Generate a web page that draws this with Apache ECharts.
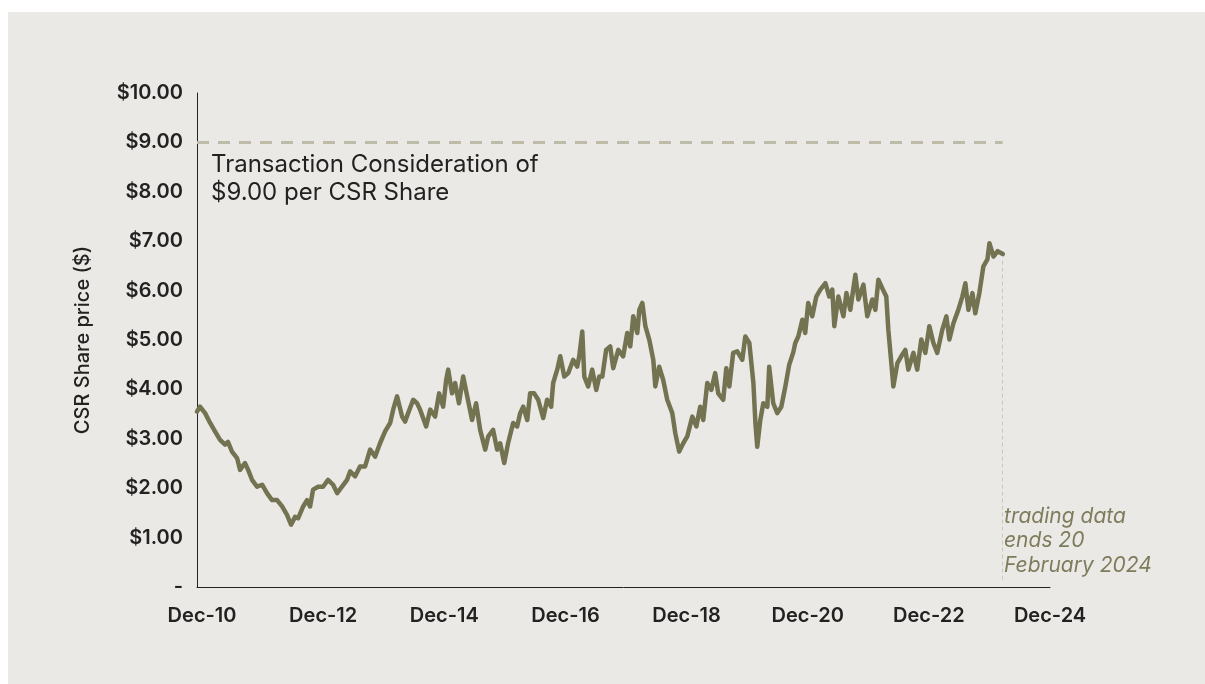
<!DOCTYPE html>
<html>
<head>
<meta charset="utf-8">
<script src="https://cdn.jsdelivr.net/npm/echarts@6/dist/echarts.min.js"></script>
<style>
  html, body { margin: 0; padding: 0; background: #ffffff; overflow: hidden; }
  .panel { position: absolute; left: 8px; top: 12px; width: 1197px; height: 672px; background: #ebe9e5; }
  #chart { position: absolute; left: 0; top: 0; width: 1205px; height: 684px; }
</style>
</head>
<body>
<div class="panel"></div>
<div id="chart"></div>
<script>
// share price, one point per date
const dates = [
  '2010-11-01', '2010-11-19', '2010-12-19', '2011-01-19', '2011-02-18', '2011-03-18', '2011-04-18', '2011-05-05',
  '2011-05-29', '2011-06-29', '2011-07-17', '2011-08-16', '2011-09-05', '2011-09-28', '2011-10-28', '2011-11-28',
  '2011-12-27', '2012-01-27', '2012-02-27', '2012-03-27', '2012-04-26', '2012-05-20', '2012-06-14', '2012-07-02',
  '2012-08-02', '2012-08-25', '2012-09-13', '2012-10-01', '2012-10-31', '2012-11-30', '2012-12-30', '2013-01-30',
  '2013-02-24', '2013-03-23', '2013-04-23', '2013-05-11', '2013-06-11', '2013-07-10', '2013-08-10', '2013-09-10',
  '2013-10-10', '2013-11-09', '2013-12-09', '2014-01-09', '2014-01-27', '2014-02-20', '2014-03-20', '2014-04-08',
  '2014-04-26', '2014-05-26', '2014-06-19', '2014-07-07', '2014-07-25', '2014-08-13', '2014-09-07', '2014-10-06',
  '2014-10-30', '2014-11-24', '2014-12-12', '2014-12-24', '2015-01-17', '2015-02-05', '2015-02-28', '2015-03-23',
  '2015-04-17', '2015-05-16', '2015-06-10', '2015-07-04', '2015-08-04', '2015-08-22', '2015-09-21', '2015-10-15',
  '2015-11-03', '2015-11-27', '2015-12-20', '2016-01-20', '2016-02-14', '2016-03-02', '2016-03-20', '2016-04-14',
  '2016-05-01', '2016-05-25', '2016-06-19', '2016-07-19', '2016-08-12', '2016-09-06', '2016-09-18', '2016-10-12',
  '2016-10-30', '2016-11-24', '2016-12-18', '2017-01-17', '2017-02-11', '2017-02-23', '2017-03-11', '2017-03-23',
  '2017-04-16', '2017-05-10', '2017-06-04', '2017-06-22', '2017-07-10', '2017-08-03', '2017-08-27', '2017-09-15',
  '2017-10-15', '2017-11-14', '2017-12-08', '2017-12-26', '2018-01-14', '2018-02-08', '2018-02-20', '2018-03-08',
  '2018-03-26', '2018-04-19', '2018-05-13', '2018-05-25', '2018-06-18', '2018-07-12', '2018-08-06', '2018-09-06',
  '2018-09-24', '2018-10-17', '2018-11-11', '2018-12-05', '2019-01-05', '2019-01-29', '2019-02-22', '2019-03-10',
  '2019-04-04', '2019-04-28', '2019-05-21', '2019-06-09', '2019-07-09', '2019-07-27', '2019-08-15', '2019-09-08',
  '2019-10-02', '2019-11-02', '2019-11-20', '2019-12-14', '2020-01-08', '2020-01-20', '2020-02-01', '2020-02-19',
  '2020-03-07', '2020-03-31', '2020-04-12', '2020-05-06', '2020-05-30', '2020-06-24', '2020-07-18', '2020-08-11',
  '2020-09-05', '2020-09-17', '2020-10-05', '2020-10-29', '2020-11-16', '2020-12-04', '2020-12-28', '2021-01-22',
  '2021-02-16', '2021-03-16', '2021-04-09', '2021-04-27', '2021-05-09', '2021-06-03', '2021-07-03', '2021-07-21',
  '2021-08-14', '2021-09-14', '2021-10-02', '2021-11-02', '2021-11-25', '2021-12-25', '2022-01-13', '2022-01-31',
  '2022-02-28', '2022-03-18', '2022-03-30', '2022-04-18', '2022-04-30', '2022-05-24', '2022-06-17', '2022-07-11',
  '2022-07-29', '2022-08-29', '2022-09-22', '2022-10-16', '2022-11-10', '2022-12-04', '2022-12-28', '2023-01-21',
  '2023-02-21', '2023-03-15', '2023-04-03', '2023-04-27', '2023-05-26', '2023-06-20', '2023-07-08', '2023-07-26',
  '2023-08-20', '2023-09-07', '2023-10-01', '2023-10-25', '2023-11-19', '2023-12-01', '2023-12-25', '2024-01-20',
  '2024-02-20'
]

const prices = [
  3.55, 3.65, 3.52, 3.32, 3.15, 2.98, 2.88, 2.94,
  2.74, 2.61, 2.37, 2.51, 2.37, 2.17, 2.03, 2.07,
  1.90, 1.76, 1.76, 1.63, 1.46, 1.26, 1.42, 1.39,
  1.63, 1.76, 1.63, 1.97, 2.03, 2.03, 2.17, 2.07,
  1.90, 2.03, 2.17, 2.34, 2.24, 2.44, 2.44, 2.78,
  2.64, 2.91, 3.15, 3.32, 3.59, 3.86, 3.45, 3.35,
  3.52, 3.79, 3.72, 3.59, 3.42, 3.25, 3.59, 3.45,
  3.92, 3.65, 4.19, 4.40, 3.92, 4.13, 3.72, 4.26,
  3.86, 3.38, 3.72, 3.18, 2.78, 3.05, 3.18, 2.78,
  2.91, 2.51, 2.91, 3.32, 3.25, 3.52, 3.65, 3.38,
  3.92, 3.92, 3.79, 3.42, 3.79, 3.65, 4.13, 4.40,
  4.67, 4.26, 4.33, 4.60, 4.46, 4.67, 5.17, 4.26,
  4.06, 4.40, 3.99, 4.26, 4.26, 4.80, 4.87, 4.43,
  4.80, 4.67, 5.14, 4.87, 5.48, 5.14, 5.61, 5.75,
  5.28, 5.01, 4.60, 4.06, 4.46, 4.19, 3.79, 3.52,
  3.11, 2.74, 2.91, 3.05, 3.45, 3.25, 3.65, 3.38,
  4.13, 3.99, 4.33, 3.92, 3.79, 4.43, 4.06, 4.74,
  4.77, 4.60, 5.07, 4.94, 4.13, 3.32, 2.84, 3.38,
  3.72, 3.65, 4.46, 3.72, 3.52, 3.65, 4.06, 4.50,
  4.75, 4.94, 5.07, 5.41, 5.14, 5.75, 5.48, 5.88,
  6.02, 6.15, 5.88, 6.02, 5.28, 5.88, 5.48, 5.95,
  5.61, 6.32, 5.82, 6.12, 5.48, 5.82, 5.61, 6.22,
  6.02, 5.88, 5.21, 4.53, 4.06, 4.53, 4.67, 4.80,
  4.40, 4.74, 4.40, 5.01, 4.74, 5.28, 4.94, 4.74,
  5.21, 5.48, 5.01, 5.34, 5.61, 5.88, 6.15, 5.61,
  5.95, 5.54, 5.95, 6.49, 6.63, 6.96, 6.69, 6.80,
  6.74
]

const tickLabels = ['Dec-10', 'Dec-12', 'Dec-14', 'Dec-16', 'Dec-18', 'Dec-20', 'Dec-22', 'Dec-24']
const considerationPrice = 9.00
const dataEndDate = '2024-02-20'

// months counted from Dec 2010
function toMonths (s) {
  const [y, m, d] = s.split('-').map(Number)
  return (y - 2010) * 12 + (m - 12) + (d - 1) / 30
}

const chart = echarts.init(document.getElementById('chart'))
const endM = toMonths(dataEndDate)
const lastPrice = prices[prices.length - 1]
const font = 'Inter, "Noto Sans", sans-serif'

chart.setOption({
  animation: false,
  backgroundColor: 'transparent',
  grid: { left: 197, right: 155, top: 93, bottom: 97 },
  xAxis: {
    type: 'value',
    min: -1,
    max: 168,
    interval: 1,
    axisLine: { lineStyle: { color: '#222222', width: 1 } },
    axisTick: { show: false },
    splitLine: { show: false },
    axisLabel: {
      margin: 19,
      color: '#222222',
      fontFamily: font,
      fontSize: 20,
      fontWeight: 600,
      formatter: v => (v >= 0 && v % 24 === 0) ? tickLabels[v / 24] : ''
    }
  },
  yAxis: {
    type: 'value',
    min: 0,
    max: 10,
    interval: 1,
    name: 'CSR Share price ($)',
    nameLocation: 'middle',
    nameRotate: 90,
    nameGap: 104,
    nameTextStyle: { color: '#222222', fontFamily: font, fontSize: 20, fontWeight: 500 },
    axisLine: { show: true, onZero: false, lineStyle: { color: '#222222', width: 1 } },
    axisTick: { show: false },
    splitLine: { show: false },
    axisLabel: {
      margin: 14,
      color: '#222222',
      fontFamily: font,
      fontSize: 20,
      fontWeight: 600,
      formatter: v => v === 0 ? '-' : '$' + v.toFixed(2)
    }
  },
  series: [
    {
      type: 'line',
      data: dates.map((d, i) => [toMonths(d), prices[i]]),
      showSymbol: false,
      lineStyle: { color: '#737352', width: 4.5, join: 'round', cap: 'round' },
      markLine: {
        silent: true,
        symbol: 'none',
        label: { show: false },
        data: [
          [
            { coord: [-1, considerationPrice], lineStyle: { color: '#bebba9', width: 3, type: [12, 9] } },
            { coord: [endM, considerationPrice] }
          ],
          [
            { coord: [endM, 0.15], lineStyle: { color: '#c9c6ba', width: 1, type: [4, 3] } },
            { coord: [endM, lastPrice - 0.1] }
          ]
        ]
      }
    }
  ],
  graphic: [
    {
      type: 'text',
      left: 211,
      top: 151,
      style: {
        text: 'Transaction Consideration of\n$9.00 per CSR Share',
        fill: '#222222',
        font: '400 24px ' + font,
        lineHeight: 28
      }
    },
    {
      type: 'text',
      left: 1004,
      top: 504,
      style: {
        text: 'trading data\nends 20\nFebruary 2024',
        fill: '#7e7c5c',
        font: 'italic 400 21px ' + font,
        lineHeight: 24.5
      }
    }
  ]
})
</script>
</body>
</html>
